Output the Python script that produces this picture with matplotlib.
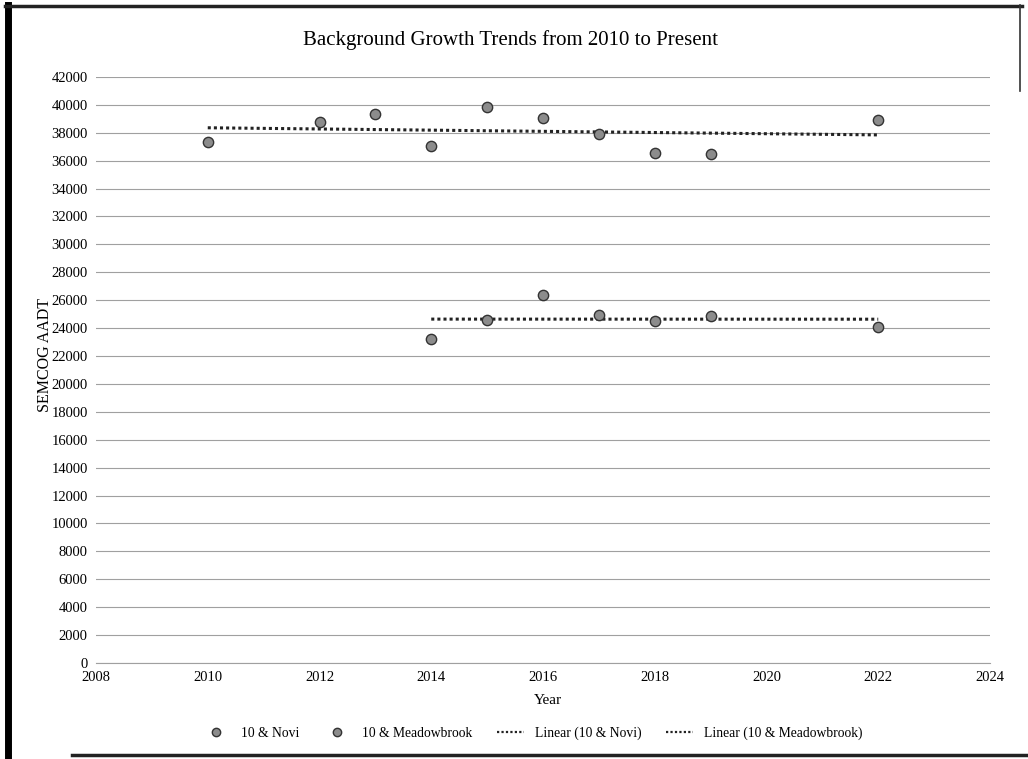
import numpy as np
import matplotlib
matplotlib.use("Agg")
import matplotlib.pyplot as plt
from matplotlib.lines import Line2D

plt.rcParams['font.family'] = ['Liberation Serif', 'DejaVu Serif']

# ---- data ----
novi_years = [2010, 2012, 2013, 2014, 2015, 2016, 2017, 2018, 2019, 2022]
novi_aadt = [37350, 38750, 39350, 37050, 39850, 39050, 37900, 36550, 36450, 38900]

mb_years = [2014, 2015, 2016, 2017, 2018, 2019, 2022]
mb_aadt = [23250, 24550, 26350, 24950, 24500, 24850, 24050]

title = "Background Growth Trends from 2010 to Present"
x_ticks = [2008, 2010, 2012, 2014, 2016, 2018, 2020, 2022, 2024]
y_ticks = list(range(0, 42001, 2000))

fig = plt.figure(figsize=(10.28, 7.59), dpi=100)
ax = fig.add_axes([0.0934, 0.1265, 0.8696, 0.7721])

ax.set_xlim(2008, 2024)
ax.set_ylim(0, 42000)
ax.set_xticks(x_ticks)
ax.set_yticks(y_ticks)
ax.tick_params(length=0, labelsize=10.5, pad=6)
for s in ax.spines.values():
    s.set_visible(False)
ax.grid(axis='y', color='#a0a0a0', linewidth=0.8)
ax.axhline(0, color='#a0a0a0', linewidth=0.8, clip_on=False, zorder=0.5)
ax.set_axisbelow(True)

mk = dict(marker='o', s=55, facecolor='#8c8c8c', edgecolor='#333333', linewidth=1.0, zorder=4)
ax.scatter(novi_years, novi_aadt, **mk)
ax.scatter(mb_years, mb_aadt, **mk)

for xs, ys in ((novi_years, novi_aadt), (mb_years, mb_aadt)):
    p = np.polyfit(xs, ys, 1)
    xr = np.array([min(xs), max(xs)])
    ax.plot(xr, np.polyval(p, xr), linestyle=(0, (1, 1)), color='#222222', linewidth=2.2, zorder=3)

fig.text(0.497, 1 - 40 / 759, title, fontsize=15, ha='center', va='center')
ax.set_xlabel("Year", fontsize=11)
ax.xaxis.set_label_coords(0.505, -(694 - 663) / 586)
ax.set_ylabel("SEMCOG AADT", fontsize=11.5, va='center')
ax.yaxis.set_label_coords(-(96 - 45) / 894, 0.526)

handles = [
    Line2D([], [], marker='o', linestyle='none', markersize=6, markerfacecolor='#8c8c8c', markeredgecolor='#333333'),
    Line2D([], [], marker='o', linestyle='none', markersize=6, markerfacecolor='#8c8c8c', markeredgecolor='#333333'),
    Line2D([], [], linestyle=(0, (1, 1)), color='#222222', linewidth=1.6),
    Line2D([], [], linestyle=(0, (1, 1)), color='#222222', linewidth=1.6),
]
labels = ["10 & Novi", "10 & Meadowbrook", "Linear (10 & Novi)", "Linear (10 & Meadowbrook)"]
fig.legend(handles, labels, loc='center', bbox_to_anchor=(0.518, 0.034), ncol=4,
           frameon=False, fontsize=9.8, handlelength=2.0, columnspacing=1.8)

# scanned page frame
fig.add_artist(Line2D([0.0075, 0.0075], [0.0, 0.993], color='black', linewidth=5, transform=fig.transFigure))
fig.add_artist(Line2D([0.005, 0.994], [0.992, 0.992], color='#222222', linewidth=2.5, transform=fig.transFigure))
fig.add_artist(Line2D([0.992, 0.992], [0.88, 0.993], color='#333333', linewidth=1.2, transform=fig.transFigure))
fig.add_artist(Line2D([0.07, 1.0], [0.005, 0.005], color='#222222', linewidth=2.5, transform=fig.transFigure))

fig.savefig("out.png", dpi=100)
